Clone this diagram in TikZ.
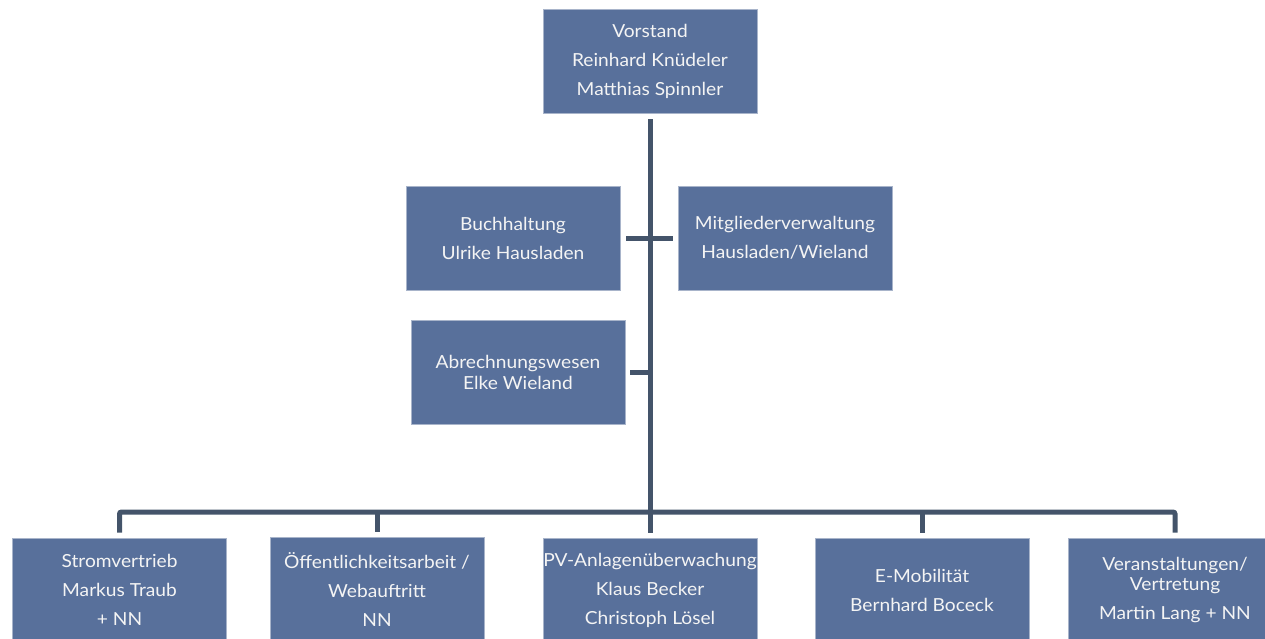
\documentclass[tikz,border=0pt]{standalone}
\usepackage{fontspec}
\setmainfont{Lato}[FakeStretch=1.065]
\definecolor{boxfill}{HTML}{58709B}
\definecolor{boxedge}{HTML}{A8B4CA}
\definecolor{linecol}{HTML}{44546A}
\definecolor{txt}{HTML}{F4F4F4}
\tikzset{
  unit/.style={rectangle, fill=boxfill, draw=boxedge, line width=0.8pt,
    minimum width=214pt, minimum height=104pt, inner sep=0pt,
    text=txt, align=center, font=\fontsize{18}{20.5}\selectfont},
  conn/.style={draw=linecol, line width=5pt, rounded corners=2pt}
}
\newcommand{\pbr}{\\[8.5pt]}
\begin{document}
\begin{tikzpicture}[x=1pt,y=-1pt]
\useasboundingbox (0,0) rectangle (1265,639);
\node[unit] (vor) at (650,61) {Vorstand\pbr Reinhard Knüdeler\pbr Matthias Spinnler};
\node[unit] (buch) at (513,238) {Buchhaltung\pbr Ulrike Hausladen};
\node[unit] (mit) at (785,238) {Mitgliederverwaltung\pbr Hausladen/Wieland};
\node[unit] (abr) at (518,372.5) {Abrechnungswesen\\Elke Wieland};
\node[unit] (strom) at (119.5,590) {Stromvertrieb\pbr Markus Traub\pbr + NN};
\node[unit] (oef) at (377,589) {Öffentlichkeitsarbeit /\pbr Webauftritt\pbr NN};
\node[unit] (pv) at (650,590) {PV-Anlagenüberwachung\pbr Klaus Becker\pbr Christoph Lösel};
\node[unit] (emob) at (922,590) {E-Mobilität\pbr Bernhard Boceck};
\node[unit] (ver) at (1175,590) {Veranstaltungen/\\Vertretung\pbr Martin Lang + NN};
\coordinate (bar) at (650,512);
\path[conn] ([yshift=-6pt]vor.south) -- ([yshift=5pt]pv.north);
\path[conn] ([xshift=6pt]buch.east) -- ([xshift=-5pt]mit.west);
\path[conn] ([xshift=5pt]abr.east) -- (abr.east -| vor.south);
\path[conn] ([yshift=5pt]strom.north) |- (bar) -| ([yshift=5pt]ver.north);
\path[conn] ([yshift=5pt]oef.north) -- (oef.north |- bar);
\path[conn] ([yshift=5pt]emob.north) -- (emob.north |- bar);
\end{tikzpicture}
\end{document}
